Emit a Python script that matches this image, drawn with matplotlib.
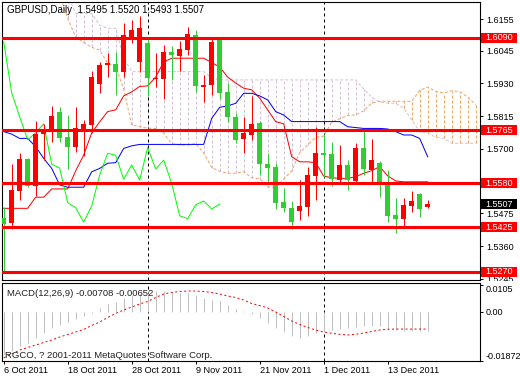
import numpy as np
import pandas as pd
import matplotlib
matplotlib.use("Agg")
import matplotlib.pyplot as plt
from matplotlib.patches import Rectangle

plt.rcParams['font.family'] = ['Liberation Sans', 'DejaVu Sans']

# ---------------- data ----------------
symbol_title = "GBPUSD,Daily"
last_ohlc = ["1.5495", "1.5520", "1.5493", "1.5507"]
dates = pd.bdate_range("2011-10-06", periods=54)

opens = [1.5459, 1.5442, 1.5554, 1.5665, 1.5571, 1.5752, 1.5764, 1.5830, 1.5742, 1.5708,
         1.5764, 1.5784, 1.5929, 1.5994, 1.5998, 1.5971, 1.6094, 1.6006, 1.6072, 1.5945,
         1.5944, 1.6040, 1.6027, 1.6047, 1.6099, 1.5918, 1.5924, 1.6084, 1.5901, 1.5813,
         1.5736, 1.5750, 1.5790, 1.5647, 1.5637, 1.5514, 1.5492, 1.5483, 1.5498, 1.5606,
         1.5685, 1.5683, 1.5591, 1.5644, 1.5589, 1.5705, 1.5626, 1.5650, 1.5580, 1.5469,
         1.5456, 1.5501, 1.5542, 1.5495]
highs = [1.5497, 1.5646, 1.5685, 1.5670, 1.5798, 1.5787, 1.5851, 1.5846, 1.5819, 1.5846,
         1.5802, 1.5973, 1.6006, 1.6037, 1.6041, 1.6140, 1.6152, 1.6166, 1.6088, 1.6035,
         1.6064, 1.6061, 1.6079, 1.6126, 1.6117, 1.5959, 1.6088, 1.6094, 1.5932, 1.5825,
         1.5813, 1.5886, 1.5799, 1.5687, 1.5652, 1.5562, 1.5518, 1.5591, 1.5638, 1.5776,
         1.5753, 1.5723, 1.5714, 1.5661, 1.5720, 1.5767, 1.5735, 1.5659, 1.5626, 1.5527,
         1.5527, 1.5553, 1.5545, 1.5520]
lows = [1.5268, 1.5419, 1.5521, 1.5568, 1.5536, 1.5661, 1.5726, 1.5726, 1.5629, 1.5688,
        1.5677, 1.5757, 1.5897, 1.5953, 1.5889, 1.5953, 1.6070, 1.5971, 1.5886, 1.5918,
        1.5874, 1.5942, 1.5973, 1.6029, 1.5901, 1.5866, 1.5889, 1.5874, 1.5796, 1.5720,
        1.5687, 1.5732, 1.5609, 1.5580, 1.5490, 1.5480, 1.5419, 1.5451, 1.5465, 1.5521,
        1.5601, 1.5571, 1.5582, 1.5556, 1.5580, 1.5609, 1.5583, 1.5533, 1.5445, 1.5405,
        1.5431, 1.5480, 1.5461, 1.5493]
closes = [1.5438, 1.5556, 1.5665, 1.5571, 1.5752, 1.5767, 1.5816, 1.5740, 1.5708, 1.5774,
          1.5788, 1.5952, 1.5994, 1.6000, 1.5970, 1.6099, 1.6117, 1.6123, 1.5950, 1.5950,
          1.6040, 1.6029, 1.6050, 1.6103, 1.5921, 1.5923, 1.6076, 1.5897, 1.5813, 1.5732,
          1.5757, 1.5788, 1.5647, 1.5633, 1.5512, 1.5494, 1.5444, 1.5500, 1.5609, 1.5685,
          1.5678, 1.5594, 1.5644, 1.5591, 1.5705, 1.5630, 1.5661, 1.5580, 1.5466, 1.5456,
          1.5504, 1.5518, 1.5490, 1.5507]

tenkan = [1.5492, 1.5492, 1.5492, 1.5492, 1.5531, 1.5531, 1.5560, 1.5560, 1.5560, 1.5623,
          1.5679, 1.5756, 1.5795, 1.5831, 1.5837, 1.5886, 1.5900, 1.5919, 1.5921, 1.5952,
          1.6005, 1.6018, 1.6018, 1.6018, 1.6018, 1.6018, 1.6003, 1.5987, 1.5952, 1.5931,
          1.5913, 1.5907, 1.5878, 1.5837, 1.5796, 1.5788, 1.5673, 1.5655, 1.5655, 1.5652,
          1.5605, 1.5599, 1.5597, 1.5597, 1.5603, 1.5615, 1.5624, 1.5638, 1.5606, 1.5588,
          1.5585, 1.5585, 1.5585, 1.5585]
kijun = [1.5761, 1.5752, 1.5737, 1.5737, 1.5708, 1.5667, 1.5632, 1.5574, 1.5566, 1.5566,
         1.5566, 1.5620, 1.5632, 1.5650, 1.5652, 1.5702, 1.5711, 1.5716, 1.5716, 1.5716,
         1.5716, 1.5716, 1.5716, 1.5716, 1.5716, 1.5716, 1.5807, 1.5846, 1.5851, 1.5860,
         1.5895, 1.5895, 1.5886, 1.5872, 1.5831, 1.5819, 1.5796, 1.5796, 1.5796, 1.5796,
         1.5796, 1.5796, 1.5796, 1.5778, 1.5775, 1.5772, 1.5772, 1.5772, 1.5770, 1.5761,
         1.5749, 1.5749, 1.5737, 1.5673]
chikou = [1.6076, 1.5897, 1.5813, 1.5732, 1.5757, 1.5788, 1.5647, 1.5633, 1.5512, 1.5494,
          1.5444, 1.5500, 1.5609, 1.5685, 1.5678, 1.5594, 1.5644, 1.5591, 1.5705, 1.5630,
          1.5661, 1.5580, 1.5466, 1.5456, 1.5504, 1.5518, 1.5490, 1.5507]
nan = np.nan
span_a = [nan, nan, nan, nan, nan, nan, nan, 1.6240, 1.6158, 1.6092,
          1.6073, 1.6056, 1.6047, 1.6000, 1.5987, 1.5910, 1.5784, 1.5778, 1.5773, 1.5772,
          1.5755, 1.5719, 1.5714, 1.5714, 1.5719, 1.5686, 1.5635, 1.5622, 1.5615, 1.5615,
          1.5620, 1.5599, 1.5596, 1.5567, 1.5563, 1.5595, 1.5623, 1.5688, 1.5714, 1.5741,
          1.5745, 1.5794, 1.5806, 1.5818, 1.5819, 1.5834, 1.5861, 1.5867, 1.5867, 1.5867,
          1.5867, 1.5867, 1.5905, 1.5917, 1.5902, 1.5896, 1.5904, 1.5901, 1.5882, 1.5855]
span_b = [nan, nan, nan, nan, nan, nan, nan, nan, 1.6240, 1.6175,
          1.6175, 1.6175, 1.6134, 1.6123, 1.6123, 1.6020, 1.5971, 1.5971, 1.5971, 1.5971,
          1.5971, 1.5971, 1.5971, 1.5971, 1.5971, 1.5971, 1.5949, 1.5942, 1.5942, 1.5942,
          1.5942, 1.5942, 1.5942, 1.5942, 1.5942, 1.5942, 1.5942, 1.5942, 1.5942, 1.5942,
          1.5942, 1.5942, 1.5942, 1.5942, 1.5942, 1.5910, 1.5882, 1.5865, 1.5860, 1.5860,
          1.5843, 1.5802, 1.5761, 1.5755, 1.5742, 1.5737, 1.5720, 1.5720, 1.5720, 1.5720]

macd_main = [-0.0160, -0.0150, -0.0128, -0.0118, -0.0100, -0.0080, -0.0063, -0.0050, -0.0039, -0.0028,
             -0.0014, -0.0005, 0.0017, 0.0030, 0.0039, 0.0052, 0.0061, 0.0069, 0.0074, 0.0080,
             0.0080, 0.0078, 0.0074, 0.0071, 0.0065, 0.0052, 0.0046, 0.0043, 0.0027, 0.0012,
             0.0002, -0.0006, -0.0024, -0.0041, -0.0060, -0.0075, -0.0092, -0.0101, -0.0092, -0.0081,
             -0.0075, -0.0069, -0.0065, -0.0062, -0.0056, -0.0052, -0.0053, -0.0052, -0.0065, -0.0069,
             -0.0071, -0.0071, -0.0071, -0.00708]
macd_signal = [-0.01757, -0.01604, -0.01452, -0.01356, -0.01261, -0.01165, -0.01070, -0.00955, -0.00859, -0.00764,
               -0.00668, -0.00516, -0.00382, -0.00210, -0.00057, 0.00076, 0.00191, 0.00306, 0.00401, 0.00554,
               0.00688, 0.00745, 0.00783, 0.00802, 0.00802, 0.00783, 0.00745, 0.00688, 0.00611, 0.00554,
               0.00458, 0.00325, 0.00248, 0.00153, 0.0, -0.00172, -0.00344, -0.00477, -0.00592, -0.00688,
               -0.00764, -0.00814, -0.00852, -0.00879, -0.00852, -0.00802, -0.00745, -0.00688, -0.00661, -0.00652,
               -0.00652, -0.00652, -0.00652, -0.00652]
macd_label = "MACD(12,26,9) -0.00708 -0.00652"
copyright_text = "RGCO, ? 2001-2011 MetaQuotes Software Corp."

levels = [1.6090, 1.5765, 1.5580, 1.5425, 1.5270]
price_ticks = [1.6155, 1.6045, 1.5930, 1.5815, 1.5700, 1.5475, 1.5360, 1.5245]
macd_ticks = [0.0105, 0.00, -0.01872]
macd_tick_labels = ["0.0105", "0.00", "-0.01872"]
separators = ["2011-11-01", "2011-12-01"]
current_price = 1.5507

# ---------------- figure ----------------
W, H = 520, 380
fig = plt.figure(figsize=(5.2, 3.8), dpi=100)
fig.patch.set_facecolor('white')

def fx(px):
    return px / W

def fy(py):
    return 1 - py / H

L, R = 2, 480
ax = fig.add_axes([fx(L), fy(280), fx(R) - fx(L), fy(2) - fy(280)])
axm = fig.add_axes([fx(L), fy(361), fx(R) - fx(L), fy(283) - fy(361)])

RED = '#ff0000'
GREEN = '#32cd32'
LIME = '#00ff00'
SANDY = '#f4a460'
THISTLE = '#d8bfd8'
SILVER = '#c0c0c0'
LW = 0.72
dash = (0, (3, 2))

x = np.arange(len(opens))
xf = np.arange(len(span_a))
xlim = (-0.21, 59.54)

sep_idx = [dates.get_loc(pd.Timestamp(s)) for s in separators]

# ---- Ichimoku cloud hatching ----
for i in xf:
    a, b = span_a[i], span_b[i]
    if np.isnan(a) or np.isnan(b):
        continue
    col = THISTLE if b > a else SANDY
    ax.vlines(i, min(a, b), max(a, b), color=col, lw=LW, linestyles=dash, zorder=1)
ax.plot(xf, span_a, color=SANDY, lw=LW, ls=dash, zorder=2)
ax.plot(xf, span_b, color=THISTLE, lw=LW, ls=dash, zorder=2)

# separators
for s in sep_idx:
    ax.axvline(s, color='black', lw=LW, ls=(0, (3, 3)), zorder=1.5)
    axm.axvline(s, color='black', lw=LW, ls=(0, (3, 3)), zorder=1.5)

# Ichimoku lines
ax.plot(x, tenkan, color=RED, lw=LW, zorder=3)
ax.plot(x, kijun, color='#0000ff', lw=LW, zorder=3)
ax.plot(np.arange(len(chikou)), chikou, color=LIME, lw=LW, zorder=3)

# candles
for i in x:
    o, h, l, c = opens[i], highs[i], lows[i], closes[i]
    col = RED if c >= o else GREEN
    ax.vlines(i, l, h, color=col, lw=LW, zorder=4)
    lo, hi = min(o, c), max(o, c)
    hgt = max(hi - lo, 0.00035)
    ax.add_patch(Rectangle((i - 0.3, lo), 0.6, hgt, facecolor=col, edgecolor='none', zorder=4))

# levels
for p in levels:
    ax.axhline(p, color=RED, lw=2.2, zorder=5)

ax.set_xlim(*xlim)
ax.set_ylim(1.52409, 1.62150)
ax.set_xticks([])
ax.yaxis.tick_right()
ax.set_yticks(price_ticks)
ax.set_yticklabels([f"{t:.4f}" for t in price_ticks])
ax.tick_params(axis='y', direction='out', length=2.2, width=0.7, pad=2, labelsize=6.5, colors='black')
for sp in ax.spines.values():
    sp.set_linewidth(0.8)

ytr = ax.get_yaxis_transform()
box_h = 0.0035
for p in levels:
    ax.add_patch(Rectangle((1 + 1.0 / 478, p - box_h / 2), 36 / 478, box_h, transform=ytr,
                           facecolor=RED, edgecolor='none', clip_on=False, zorder=10))
    ax.text(1 + 19 / 478, p, f"{p:.4f}", transform=ytr, ha='center', va='center',
            color='white', fontsize=6.5, clip_on=False, zorder=11)
ax.add_patch(Rectangle((1 + 1.0 / 478, current_price - box_h / 2), 36 / 478, box_h, transform=ytr,
                       facecolor='black', edgecolor='none', clip_on=False, zorder=10))
ax.text(1 + 19 / 478, current_price, f"{current_price:.4f}", transform=ytr, ha='center', va='center',
        color='white', fontsize=6.5, clip_on=False, zorder=11)

ax.text(5 / 478, 1 - 8 / 278, symbol_title + "  " + " ".join(last_ohlc), transform=ax.transAxes,
        ha='left', va='center', fontsize=7, color='black', zorder=12)

# cover the cut-off bottom label like the reference
fig.patches.append(Rectangle((fx(481), fy(283)), fx(520) - fx(481), fy(281) - fy(283),
                             transform=fig.transFigure, facecolor='white', edgecolor='none', zorder=20))

# ---------------- MACD ----------------
axm.vlines(x, 0, macd_main, color=SILVER, lw=LW, zorder=2)
axm.plot(x, macd_signal, color=RED, lw=LW, ls=(0, (2, 2.5)), zorder=3)
axm.set_xlim(*xlim)
axm.set_ylim(-0.01872, 0.01108)
axm.yaxis.tick_right()
axm.set_yticks(macd_ticks)
axm.set_yticklabels([])
axm.tick_params(axis='y', direction='out', length=2.2, width=0.7)
mtr = axm.get_yaxis_transform()
vas = ['top', 'center', 'bottom']
for v, lab, va in zip(macd_ticks, macd_tick_labels, vas):
    axm.text(1 + 6 / 478, v, lab, transform=mtr, ha='left', va=va, fontsize=6.5,
             color='black', clip_on=False)

tick_idx = list(range(0, len(dates), 8))
axm.set_xticks(tick_idx)
axm.set_xticklabels([f"{dates[i].day} {dates[i].strftime('%b')} {dates[i].year}" for i in tick_idx])
for t in axm.get_xticklabels():
    t.set_ha('left')
axm.tick_params(axis='x', direction='out', length=2.2, width=0.7, pad=1.5, labelsize=6.6)
for sp in axm.spines.values():
    sp.set_linewidth(0.8)

axm.text(5 / 478, 1 - 11 / 78, macd_label, transform=axm.transAxes, ha='left', va='center',
         fontsize=6.8, color='#202020')
axm.text(3 / 478, 6 / 78, copyright_text, transform=axm.transAxes, ha='left', va='center',
         fontsize=6.8, color='#202020')

fig.savefig("out.png", dpi=100)
